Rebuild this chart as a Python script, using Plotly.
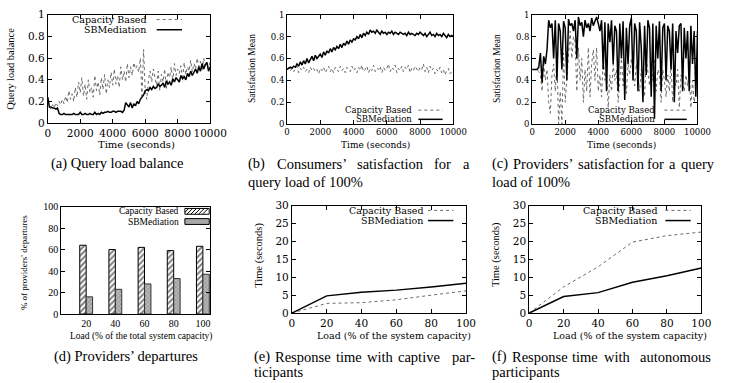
import plotly.graph_objects as go

W, H = 732, 383


def px(x):
    return x / W


def py(y):
    return 1 - y / H


# ---------------- data ----------------
time = list(range(0, 10001, 100))
time_ticks = [0, 2000, 4000, 6000, 8000, 10000]
time_ticktext = ["0", "2000", "4000", "6000", "8000", "10000"]
unit_ticks = [0, 0.2, 0.4, 0.6, 0.8, 1]
unit_ticktext = ["0", "0.2", "0.4", "0.6", "0.8", "1"]

a_capacity = [0.20,
              0.15, 0.13, 0.17, 0.14, 0.19, 0.16, 0.20, 0.17, 0.22, 0.18,
              0.25, 0.19, 0.30, 0.22, 0.27, 0.20, 0.33, 0.24, 0.38, 0.28,
              0.42, 0.25, 0.36, 0.22, 0.40, 0.28, 0.33, 0.24, 0.44, 0.30,
              0.38, 0.26, 0.42, 0.31, 0.45, 0.27, 0.40, 0.33, 0.47, 0.35,
              0.50, 0.36, 0.44, 0.33, 0.52, 0.40, 0.48, 0.38, 0.55, 0.42,
              0.52, 0.44, 0.56, 0.50, 0.53, 0.47, 0.60, 0.25, 0.68, 0.30,
              0.22, 0.40, 0.48, 0.38, 0.50, 0.42, 0.35, 0.48, 0.30, 0.45,
              0.38, 0.50, 0.32, 0.47, 0.42, 0.52, 0.38, 0.55, 0.44, 0.50,
              0.46, 0.53, 0.40, 0.56, 0.45, 0.52, 0.48, 0.58, 0.47, 0.55,
              0.50, 0.60, 0.52, 0.57, 0.48, 0.60, 0.53, 0.56, 0.49, 0.58]
a_sbm = [0.24,
         0.15, 0.15, 0.14, 0.14, 0.13, 0.14, 0.09, 0.08, 0.08, 0.09,
         0.08, 0.08, 0.08, 0.08, 0.08, 0.09, 0.08, 0.08, 0.08, 0.10,
         0.08, 0.08, 0.09, 0.08, 0.08, 0.09, 0.08, 0.08, 0.10, 0.08,
         0.09, 0.08, 0.10, 0.09, 0.10, 0.10, 0.11, 0.10, 0.10, 0.11,
         0.11, 0.10, 0.11, 0.11, 0.11, 0.10, 0.12, 0.19, 0.17, 0.15,
         0.19, 0.14, 0.18, 0.16, 0.20, 0.18, 0.22, 0.24, 0.26, 0.30,
         0.31, 0.30, 0.33, 0.31, 0.34, 0.32, 0.33, 0.36, 0.34, 0.35,
         0.37, 0.33, 0.39, 0.36, 0.38, 0.35, 0.41, 0.38, 0.42, 0.40,
         0.38, 0.44, 0.41, 0.43, 0.40, 0.46, 0.43, 0.48, 0.44, 0.47,
         0.50, 0.46, 0.52, 0.48, 0.55, 0.50, 0.54, 0.56, 0.48, 0.52]

b_capacity = [0.50,
              0.52, 0.49, 0.51, 0.48, 0.50, 0.53, 0.47, 0.51, 0.49, 0.52,
              0.48, 0.50, 0.47, 0.52, 0.49, 0.51, 0.48, 0.50, 0.46, 0.51,
              0.49, 0.52, 0.47, 0.50, 0.53, 0.48, 0.51, 0.47, 0.52, 0.50,
              0.48, 0.53, 0.49, 0.51, 0.47, 0.52, 0.50, 0.48, 0.53, 0.49,
              0.51, 0.47, 0.52, 0.49, 0.54, 0.48, 0.50, 0.53, 0.47, 0.51,
              0.49, 0.54, 0.48, 0.51, 0.50, 0.53, 0.47, 0.52, 0.49, 0.51,
              0.55, 0.48, 0.52, 0.50, 0.54, 0.47, 0.51, 0.49, 0.53, 0.48,
              0.52, 0.50, 0.54, 0.47, 0.51, 0.49, 0.53, 0.50, 0.48, 0.52,
              0.50, 0.55, 0.48, 0.52, 0.47, 0.53, 0.49, 0.51, 0.46, 0.50,
              0.48, 0.52, 0.47, 0.50, 0.45, 0.49, 0.51, 0.46, 0.48, 0.47]
b_sbm = [0.50,
         0.51, 0.52, 0.51, 0.53, 0.52, 0.55, 0.53, 0.57, 0.54, 0.58,
         0.55, 0.60, 0.56, 0.59, 0.62, 0.58, 0.63, 0.60, 0.62, 0.64,
         0.61, 0.66, 0.63, 0.67, 0.65, 0.69, 0.66, 0.70, 0.68, 0.71,
         0.69, 0.73, 0.70, 0.74, 0.72, 0.76, 0.73, 0.77, 0.75, 0.78,
         0.77, 0.80, 0.78, 0.82, 0.79, 0.83, 0.81, 0.84, 0.82, 0.86,
         0.84, 0.85, 0.83, 0.86, 0.84, 0.82, 0.85, 0.83, 0.84, 0.82,
         0.84, 0.83, 0.85, 0.82, 0.84, 0.83, 0.82, 0.84, 0.83, 0.82,
         0.83, 0.81, 0.84, 0.82, 0.83, 0.82, 0.81, 0.83, 0.82, 0.84,
         0.82, 0.81, 0.83, 0.80, 0.82, 0.84, 0.81, 0.82, 0.80, 0.83,
         0.81, 0.82, 0.80, 0.83, 0.81, 0.79, 0.82, 0.80, 0.81, 0.80]

c_capacity = [0.50,
              0.50, 0.50, 0.50, 0.48, 0.45, 0.30, 0.55, 0.40, 0.50, 0.20,
              0.10, 0.45, 0.55, 0.30, 0.60, 0.00, 0.30, 0.00, 0.65, 0.20,
              0.45, 0.70, 0.85, 0.60, 0.80, 0.75, 0.30, 0.70, 0.40, 0.60,
              0.20, 0.50, 0.30, 0.70, 0.25, 0.55, 0.68, 0.40, 0.70, 0.30,
              0.45, 0.25, 0.60, 0.40, 0.50, 0.15, 0.45, 0.30, 0.55, 0.40,
              0.50, 0.20, 0.45, 0.60, 0.35, 0.50, 0.28, 0.55, 0.45, 0.60,
              0.50, 0.35, 0.55, 0.45, 0.30, 0.50, 0.40, 0.25, 0.60, 0.45,
              0.35, 0.55, 0.40, 0.60, 0.30, 0.50, 0.45, 0.20, 0.50, 0.40,
              0.25, 0.45, 0.30, 0.55, 0.20, 0.40, 0.35, 0.50, 0.15, 0.45,
              0.40, 0.30, 0.45, 0.35, 0.50, 0.15, 0.40, 0.20, 0.30, 0.50]
c_sbm = [0.50,
         0.50, 0.50, 0.50, 0.52, 0.65, 0.38, 0.62, 0.55, 0.68, 0.95,
         0.88, 0.92, 0.60, 0.95, 0.40, 0.92, 0.85, 0.50, 0.94, 0.88,
         0.40, 0.96, 0.90, 0.92, 0.85, 0.95, 0.60, 0.98, 0.90, 0.93,
         0.80, 0.95, 0.88, 0.92, 0.85, 0.97, 0.90, 0.94, 0.98, 0.92,
         0.85, 0.95, 0.50, 0.93, 0.30, 0.92, 0.75, 0.95, 0.55, 0.90,
         0.85, 0.30, 0.92, 0.60, 0.94, 0.22, 0.88, 0.55, 0.90, 0.97,
         0.40, 0.92, 0.85, 0.30, 0.93, 0.70, 0.20, 0.90, 0.45, 0.95,
         0.88, 0.25, 0.92, 0.05, 0.90, 0.60, 0.94, 0.30, 0.88, 0.92,
         0.40, 0.90, 0.85, 0.50, 0.92, 0.20, 0.85, 0.65, 0.90, 0.92,
         0.30, 0.88, 0.60, 0.85, 0.30, 0.90, 0.55, 0.85, 0.25, 0.85]

d_load = [20, 40, 60, 80, 100]
d_capacity = [64, 60, 62, 59, 63]
d_sbm = [16, 23, 28, 33, 37]
d_ticks = [0, 20, 40, 60, 80, 100]

load = [0, 20, 40, 60, 80, 100]
resp_ticks = [0, 5, 10, 15, 20, 25, 30]
e_capacity = [0, 2.7, 2.9, 3.7, 5.0, 6.2]
e_sbm = [0, 4.8, 5.8, 6.4, 7.3, 8.3]
f_capacity = [0, 7.3, 12.9, 19.8, 21.6, 22.6]
f_sbm = [0, 4.6, 5.7, 8.6, 10.4, 12.6]

names = ["Capacity Based", "SBMediation"]

# ---------------- styling ----------------
DV = "DejaVu Serif"
TM = "Liberation Serif"
cap_line = dict(color="#6a6a6a", width=1, dash="dot")
sbm_line = dict(color="black", width=1.5)

fig = go.Figure()

line_panels = [
    ("x", "y", time, a_capacity, a_sbm),
    ("x2", "y2", time, b_capacity, b_sbm),
    ("x3", "y3", time, c_capacity, c_sbm),
    ("x5", "y5", load, e_capacity, e_sbm),
    ("x6", "y6", load, f_capacity, f_sbm),
]
for xa, ya, xs, cap, sbm in line_panels:
    fig.add_trace(go.Scatter(x=xs, y=cap, mode="lines", line=cap_line, name=names[0],
                             xaxis=xa, yaxis=ya, showlegend=False))
    fig.add_trace(go.Scatter(x=xs, y=sbm, mode="lines", line=sbm_line, name=names[1],
                             xaxis=xa, yaxis=ya, showlegend=False))

fig.add_trace(go.Bar(x=d_load, y=d_capacity, name=names[0], xaxis="x4", yaxis="y4",
                     showlegend=False,
                     marker=dict(color="white", line=dict(color="black", width=1),
                                 pattern=dict(shape="/", fgcolor="black", bgcolor="white",
                                              size=4, solidity=0.5))))
fig.add_trace(go.Bar(x=d_load, y=d_sbm, name=names[1], xaxis="x4", yaxis="y4",
                     showlegend=False,
                     marker=dict(color="#b0b0b0", line=dict(color="#333", width=1),
                                 pattern=dict(shape="x", fgcolor="#555", bgcolor="#b8b8b8",
                                              size=3, solidity=0.35))))


def axis(domain, rng, tickvals, ticktext, font, anchor):
    return dict(domain=domain, range=rng, tickvals=tickvals, ticktext=ticktext,
                ticks="inside", ticklen=4, tickcolor="black", tickwidth=1,
                showline=True, linecolor="black", linewidth=1, mirror="ticks",
                showgrid=False, zeroline=False, tickfont=font, anchor=anchor)


# plot boxes in pixel coords: (left, right, top, bottom)
boxes = {
    "a": (46, 213, 9, 121),
    "b": (292, 463, 9, 122),
    "c": (544, 714, 9, 122),
    "d": (60, 213, 207, 318),
    "e": (297, 476, 206, 317),
    "f": (541, 718, 206, 317),
}


def xd(k):
    l, r, t, b = boxes[k]
    return [px(l), px(r)]


def yd(k):
    l, r, t, b = boxes[k]
    return [py(b), py(t)]


fa = dict(family=DV, size=10.5, color="black")
fb = dict(family=DV, size=8.5, color="black")
fd = dict(family=TM, size=10, color="black")
fe = dict(family=DV, size=10.5, color="black")

layout = dict(
    width=W, height=H, margin=dict(l=0, r=0, t=0, b=0),
    paper_bgcolor="white", plot_bgcolor="white", showlegend=False,
    barmode="group", bargap=0.56, bargroupgap=0,
    xaxis=axis(xd("a"), [0, 10000], time_ticks, time_ticktext, fa, "y"),
    yaxis=axis(yd("a"), [0, 1], unit_ticks, unit_ticktext, fa, "x"),
    xaxis2=axis(xd("b"), [0, 10000], time_ticks, time_ticktext, fb, "y2"),
    yaxis2=axis(yd("b"), [0, 1], unit_ticks, unit_ticktext, fb, "x2"),
    xaxis3=axis(xd("c"), [0, 10000], time_ticks, time_ticktext, fb, "y3"),
    yaxis3=axis(yd("c"), [0, 1], unit_ticks, unit_ticktext, fb, "x3"),
    xaxis4=axis(xd("d"), [3, 105], d_load, [str(v) for v in d_load], fd, "y4"),
    yaxis4=axis(yd("d"), [0, 100], d_ticks, [str(v) for v in d_ticks], fd, "x4"),
    xaxis5=axis(xd("e"), [0, 100], load, [str(v) for v in load], fe, "y5"),
    yaxis5=axis(yd("e"), [0, 30], resp_ticks, [str(v) for v in resp_ticks], fe, "x5"),
    xaxis6=axis(xd("f"), [0, 100], load, [str(v) for v in load], fe, "y6"),
    yaxis6=axis(yd("f"), [0, 30], resp_ticks, [str(v) for v in resp_ticks], fe, "x6"),
)
layout["xaxis4"]["ticks"] = ""
fig.update_layout(**layout)

ann = []


def text(x, y, s, font, xanchor="center", angle=0):
    ann.append(dict(x=px(x), y=py(y), xref="paper", yref="paper", text=s, showarrow=False,
                    xanchor=xanchor, yanchor="middle", textangle=angle, font=font,
                    borderpad=0))


# axis titles
text(137, 143, "Time (seconds)", dict(family=DV, size=10, color="black"))
text(8, 65, "Query load balance", dict(family=TM, size=10.5, color="black"), angle=-90)
text(383, 144, "Time (seconds)", dict(family=DV, size=9, color="black"))
text(256, 65, "Satisfaction Mean", dict(family=TM, size=9.5, color="black"), angle=-90)
text(636, 144, "Time (seconds)", dict(family=DV, size=9, color="black"))
text(508, 65, "Satisfaction Mean", dict(family=TM, size=9.5, color="black"), angle=-90)
text(142, 341, "Load (% of the total system capacity)", dict(family=TM, size=9.5, color="black"))
text(21, 265, "% of providers' departures", dict(family=TM, size=9, color="black"), angle=-90)
text(402, 340, "Load (% of the system capacity)", dict(family=DV, size=9.5, color="black"))
text(263, 257, "Time (seconds)", dict(family=TM, size=10.5, color="black"), angle=-90)
text(645, 340, "Load (% of the system capacity)", dict(family=DV, size=9.5, color="black"))
text(507, 257, "Time (seconds)", dict(family=TM, size=10.5, color="black"), angle=-90)

# legends (gnuplot style: text right-aligned, sample on the right)
shapes = []
legends = [
    # text right x, y1, y2, sample x0, x1, font
    (148, 14, 24.5, 158, 184, dict(family=DV, size=9.5, color="black"), "line"),
    (422, 107.5, 117, 427, 452, dict(family=DV, size=8.5, color="black"), "line"),
    (671, 107.5, 117, 680, 703, dict(family=DV, size=8.5, color="black"), "line"),
    (182, 212, 222.5, 187, 212, dict(family=TM, size=9.5, color="black"), "box"),
    (433, 211, 221.5, 437, 463, dict(family=DV, size=9.5, color="black"), "line"),
    (673, 211, 221.5, 681, 707, dict(family=DV, size=9.5, color="black"), "line"),
]
for tx, y1, y2, s0, s1, font, kind in legends:
    text(tx, y1, names[0], font, xanchor="right")
    text(tx, y2, names[1], font, xanchor="right")
    if kind == "line":
        shapes.append(dict(type="line", xref="paper", yref="paper", x0=px(s0), x1=px(s1),
                           y0=py(y1), y1=py(y1), line=cap_line))
        shapes.append(dict(type="line", xref="paper", yref="paper", x0=px(s0), x1=px(s1),
                           y0=py(y2), y1=py(y2), line=dict(color="black", width=1.5)))
    else:
        shapes.append(dict(type="rect", xref="paper", yref="paper", x0=px(s0), x1=px(s1),
                           y0=py(y1 + 3), y1=py(y1 - 3), fillcolor="white",
                           line=dict(color="black", width=1)))
        for k in range(0, 28, 4):
            xa0 = s0 + k - 6
            xa1 = xa0 + 6
            c0 = max(xa0, s0)
            c1 = min(xa1, s1)
            if c1 <= c0:
                continue
            yb = y1 + 3 - (c0 - xa0)
            yt = y1 + 3 - (c1 - xa0)
            shapes.append(dict(type="line", xref="paper", yref="paper", x0=px(c0), x1=px(c1),
                               y0=py(yb), y1=py(yt), line=dict(color="black", width=1)))
        shapes.append(dict(type="rect", xref="paper", yref="paper", x0=px(s0), x1=px(s1),
                           y0=py(y2 + 3), y1=py(y2 - 3), fillcolor="#a8a8a8",
                           line=dict(color="black", width=1)))

# captions
cf = dict(family=TM, size=14.5, color="black")
text(117, 163, "(a) Query load balance", cf)
for x, w in [(251, "(b)"), (280.6, "Consumers’"), (363, "satisfaction"), (441.6, "for"), (471.6, "a")]:
    text(x, 163, w, cf, xanchor="left")
text(251, 182, "query load of 100%", cf, xanchor="left")
for x, w in [(502, "(c)"), (523.7, "Providers’"), (589.7, "satisfaction"), (661.3, "for"),
             (683.8, "a"), (695.8, "query")]:
    text(x, 163, w, cf, xanchor="left")
text(502, 182, "load of 100%", cf, xanchor="left")
text(126, 362, "(d) Providers’ departures", cf)
for x, w in [(257, "(e)"), (279, "Response"), (341, "time"), (373, "with"), (405, "captive")]:
    text(x, 362, w, cf, xanchor="left")
text(486, 362, "par-", cf, xanchor="right")
text(257, 378, "ticipants", cf, xanchor="left")
for x, w in [(502, "(f)"), (522, "Response"), (584, "time"), (617, "with")]:
    text(x, 362, w, cf, xanchor="left")
text(729, 362, "autonomous", cf, xanchor="right")
text(502, 378, "participants", cf, xanchor="left")

fig.update_layout(annotations=ann, shapes=shapes)
fig.write_html("out.html")
